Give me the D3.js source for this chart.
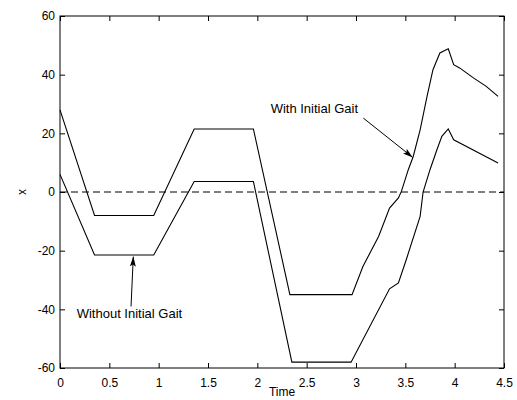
<!DOCTYPE html>
<html>
<head>
<meta charset="utf-8">
<script src="https://cdn.jsdelivr.net/npm/d3@7"></script>
<style>
  body { margin: 0; background: #fff; }
  text { font-family: "Liberation Sans", Arial, sans-serif; font-size: 12px; fill: #000; }
</style>
</head>
<body>
<svg id="chart"></svg>
<script>
// Data
const withTime = [0, 0.35, 0.95, 1.36, 1.96, 2.33, 2.96, 3.07, 3.23, 3.34, 3.43, 3.46, 3.53, 3.58, 3.65, 3.72, 3.78, 3.85, 3.935, 3.99, 4.05, 4.19, 4.32, 4.44]
const withX = [28, -8, -8, 21.5, 21.5, -35, -35, -25.4, -15.1, -5.5, -2, 0.2, 7.6, 12.1, 21.2, 32.6, 41.7, 47.4, 48.8, 43.4, 42.3, 38.9, 36, 32.6]

const withoutTime = [0, 0.35, 0.95, 1.36, 1.96, 2.35, 2.95, 3.34, 3.43, 3.51, 3.65, 3.68, 3.75, 3.82, 3.87, 3.935, 3.99, 4.44]
const withoutX = [6, -21.5, -21.5, 3.6, 3.6, -58, -58, -33, -31, -23, -8.3, 0, 7.6, 14.4, 19, 21.5, 17.8, 9.9]

const xTicks = [0, 0.5, 1, 1.5, 2, 2.5, 3, 3.5, 4, 4.5]
const yTicks = [-60, -40, -20, 0, 20, 40, 60]

// annotations: [label, textT, textX, arrowFromT, arrowFromX, arrowToT, arrowToX]
const notes = [
  ['With Initial Gait', 2.135, 27, 3.074, 25.2, 3.575, 11.8],
  ['Without Initial Gait', 0.169, -43, 0.72, -39, 0.743, -22]
]

const W = 517, H = 400
const margin = { top: 16, right: 13, bottom: 32, left: 60 }
const width = W - margin.left - margin.right
const height = H - margin.top - margin.bottom

const svg = d3.select('#chart').attr('width', W).attr('height', H)

svg.append('defs').append('marker')
  .attr('id', 'head')
  .attr('viewBox', '0 0 10 6')
  .attr('refX', 10).attr('refY', 3)
  .attr('markerWidth', 10).attr('markerHeight', 6)
  .attr('markerUnits', 'userSpaceOnUse')
  .attr('orient', 'auto')
  .append('path').attr('d', 'M0,0 L10,3 L0,6 L2,3 Z').attr('fill', '#000')

const g = svg.append('g').attr('transform', `translate(${margin.left},${margin.top})`)

const xScale = d3.scaleLinear().domain([0, 4.5]).range([0, width])
const yScale = d3.scaleLinear().domain([-60, 60]).range([height, 0])

// Axes with inward ticks on all four sides (matlab box)
const axisStyle = sel => {
  sel.select('.domain').remove()
  sel.selectAll('line').attr('stroke', '#000')
}
const plain = d => String(d) // hyphen minus like the original
g.append('g').attr('transform', `translate(0,${height})`)
  .call(d3.axisBottom(xScale).tickValues(xTicks).tickSizeInner(-5).tickSizeOuter(0).tickPadding(10).tickFormat(plain))
  .call(axisStyle)
g.append('g')
  .call(d3.axisTop(xScale).tickValues(xTicks).tickSizeInner(-5).tickSizeOuter(0).tickFormat(''))
  .call(axisStyle)
g.append('g')
  .call(d3.axisLeft(yScale).tickValues(yTicks).tickSizeInner(-5).tickSizeOuter(0).tickPadding(5).tickFormat(plain))
  .call(axisStyle)
g.append('g').attr('transform', `translate(${width},0)`)
  .call(d3.axisRight(yScale).tickValues(yTicks).tickSizeInner(-5).tickSizeOuter(0).tickFormat(''))
  .call(axisStyle)

g.selectAll('.tick text')
  .attr('font-family', '"Liberation Sans", Arial, sans-serif')
  .attr('font-size', 12)

// box
g.append('rect').attr('width', width).attr('height', height)
  .attr('fill', 'none').attr('stroke', '#000').attr('stroke-width', 1)

// zero reference line
g.append('line')
  .attr('x1', xScale(0)).attr('x2', xScale(4.5))
  .attr('y1', yScale(0)).attr('y2', yScale(0))
  .attr('stroke', '#000').attr('stroke-dasharray', '7,4')

const line = d3.line().x(d => xScale(d[0])).y(d => yScale(d[1]))

g.append('path')
  .datum(withTime.map((t, i) => [t, withX[i]]))
  .attr('d', line).attr('fill', 'none').attr('stroke', '#000').attr('stroke-width', 1.1)
g.append('path')
  .datum(withoutTime.map((t, i) => [t, withoutX[i]]))
  .attr('d', line).attr('fill', 'none').attr('stroke', '#000').attr('stroke-width', 1.1)

// annotations
notes.forEach(n => {
  g.append('text').attr('x', xScale(n[1])).attr('y', yScale(n[2]))
    .style('font-size', '13px').text(n[0])
  g.append('line')
    .attr('x1', xScale(n[3])).attr('y1', yScale(n[4]))
    .attr('x2', xScale(n[5])).attr('y2', yScale(n[6]))
    .attr('stroke', '#000').attr('stroke-width', 1)
    .attr('marker-end', 'url(#head)')
})

// axis labels
svg.append('text').attr('x', margin.left + width / 2).attr('y', 396)
  .attr('text-anchor', 'middle').text('Time')
svg.append('text')
  .attr('transform', `translate(26,${margin.top + yScale(0)}) rotate(-90)`)
  .attr('text-anchor', 'middle').text('x')
</script>
</body>
</html>
